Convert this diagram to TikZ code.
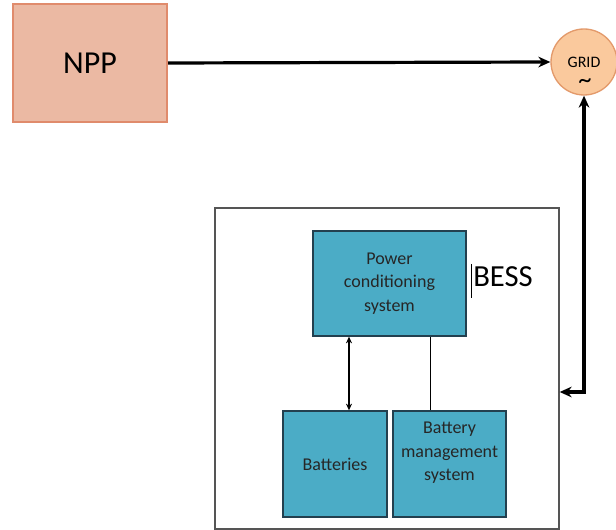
\documentclass[tikz,border=0pt]{standalone}
\usepackage{fontspec}
\setmainfont{Carlito}
\usepackage{tikz}
\usetikzlibrary{arrows.meta}

\definecolor{nppfill}{HTML}{EBB9A3}
\definecolor{nppline}{HTML}{E08B6C}
\definecolor{gridfill}{HTML}{FAC99D}
\definecolor{gridline}{HTML}{E39A6B}
\definecolor{unitfill}{HTML}{4BACC6}
\definecolor{unitline}{HTML}{23404F}
\definecolor{frameline}{HTML}{555555}

\tikzset{
  plant/.style={draw=nppline,fill=nppfill,line width=1.5pt,minimum width=115.5pt,minimum height=88.5pt,font=\fontsize{24}{28}\selectfont},
  gridnode/.style={circle,draw=gridline,fill=gridfill,line width=1pt,minimum size=49.5pt,inner sep=0pt,font=\fontsize{12}{14}\selectfont},
  unit/.style={draw=unitline,fill=unitfill,line width=1pt,align=center,font=\fontsize{13.5}{17.5}\selectfont,text=black!85},
  heavy/.style={line width=2.4pt,-{Stealth[length=9pt,width=8pt]}},
  light/.style={line width=0.8pt}
}

\begin{document}
\begin{tikzpicture}[x=0.75pt,y=-0.75pt]
  \useasboundingbox (0,0) rectangle (616,530);

  % plant and grid
  \node[plant] (npp) at (90,63) {NPP};
  \node[gridnode] (grid) at (584,62) {GRID};
  \node[inner sep=0pt,font=\fontsize{20}{20}\selectfont] (wave) at (585,84) {\raisebox{0pt}{\char"007E}};

  % storage system
  \node[draw=frameline,line width=1pt,minimum width=258pt,minimum height=240.75pt] (bess) at (387,368.5) {};
  \node[unit,minimum width=114.75pt,minimum height=78.75pt] (pcs) at (389.5,283.5) {Power\\conditioning\\system};
  \node[unit,minimum width=78pt,minimum height=79.5pt] (bat) at (335,464) {Batteries};
  \node[unit,minimum width=84.75pt,minimum height=79.5pt] (bms) at (449.5,464) {};
  \node[align=center,inner sep=0pt,font=\fontsize{13.5}{17.5}\selectfont,text=black!85] (bmstext) at (449.5,453) {Battery\\management\\system};
  \node[anchor=west,inner sep=0pt,font=\fontsize{23}{26}\selectfont] (label) at (473,277) {BESS};
  \draw[line width=0.6pt] (471,264) -- (471,298);

  % connections
  \coordinate (tap) at (584,392);
  \draw[heavy] (npp.east) -- (grid.west);
  \draw[heavy,{Stealth[length=9pt,width=8pt]}-{Stealth[length=9pt,width=8pt]}] (grid.south) |- (bess.east |- tap);
  \draw[light,<->,>={Stealth[length=5pt,width=4.5pt]}] ([xshift=10.5pt]bat.north) -- ([xshift=10.5pt]bat.north |- pcs.south);
  \draw[light] ([xshift=-14.6pt]bms.north) -- ([xshift=-14.6pt]bms.north |- pcs.south);
\end{tikzpicture}
\end{document}
